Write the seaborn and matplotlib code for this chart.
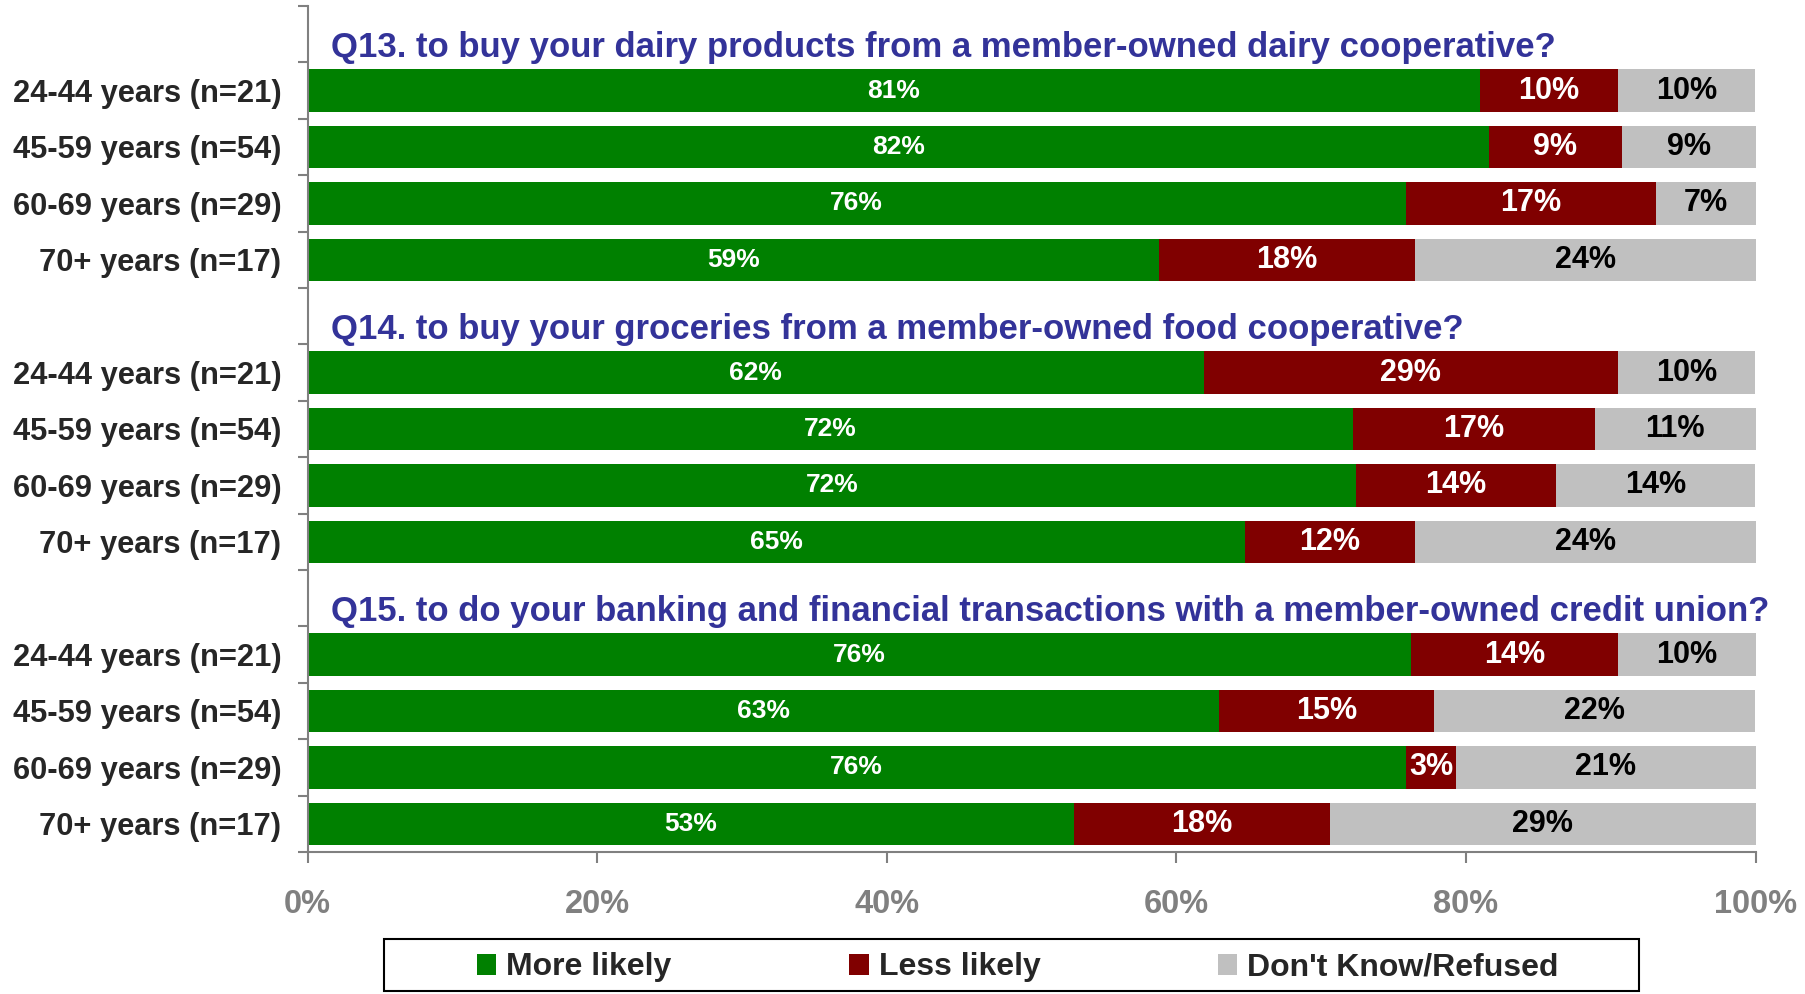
import matplotlib
matplotlib.use("Agg")
import matplotlib.pyplot as plt
import seaborn as sns
import pandas as pd
from matplotlib.patches import Patch, Rectangle

# survey data (percent of respondents per age group)
questions = [
    "Q13. to buy your dairy products from a member-owned dairy cooperative?",
    "Q14. to buy your groceries from a member-owned food cooperative?",
    "Q15. to do your banking and financial transactions with a member-owned credit union?",
]
age_groups = ["24-44 years (n=21)", "45-59 years (n=54)", "60-69 years (n=29)", "70+ years (n=17)"]

more_likely = [80.95, 81.60, 75.86, 58.82,
               61.90, 72.22, 72.41, 64.71,
               76.19, 62.96, 75.86, 52.94]
less_likely = [9.52, 9.15, 17.24, 17.65,
               28.57, 16.67, 13.79, 11.76,
               14.29, 14.81, 3.45, 17.65]
dont_know = [9.52, 9.25, 6.90, 23.53,
             9.52, 11.11, 13.79, 23.53,
             9.52, 22.22, 20.69, 29.41]

series = ["More likely", "Less likely", "Don't Know/Refused"]
colors = ["#008000", "#800000", "#C0C0C0"]
text_colors = ["white", "white", "black"]
label_sizes = [19, 22, 22]

sns.set_style("white")
plt.rcParams["font.family"] = ["Liberation Sans", "DejaVu Sans"]
plt.rcParams["font.weight"] = "bold"

# one header row per question, then its age groups
order, tick_labels, rows = [], [], []
i = 0
for qi, q in enumerate(questions):
    order.append(f"hdr{qi}")
    tick_labels.append("")
    for age in age_groups:
        key = f"{qi}|{age}"
        order.append(key)
        tick_labels.append(age)
        rows.append({"key": key, "more": more_likely[i], "less": less_likely[i], "dk": dont_know[i]})
        i += 1

df = pd.DataFrame(rows)
df["c1"] = df["more"]
df["c2"] = df["more"] + df["less"]
df["c3"] = df["more"] + df["less"] + df["dk"]

fig, ax = plt.subplots(figsize=(18.06, 9.94), dpi=100)
fig.subplots_adjust(left=0.1703, right=0.9721, bottom=0.1429, top=0.994)

# stacked bars drawn back to front as cumulative totals
for col, color in zip(["c3", "c2", "c1"], colors[::-1]):
    sns.barplot(data=df, y="key", x=col, order=order, orient="h", color=color,
                saturation=1, width=0.75, errorbar=None, linewidth=0, ax=ax)

# segment labels
pos = {k: order.index(k) for k in df["key"]}
for _, r in df.iterrows():
    y = pos[r["key"]]
    starts = [0, r["c1"], r["c2"]]
    for j, val in enumerate([r["more"], r["less"], r["dk"]]):
        ax.text(starts[j] + val / 2, y, f"{val:.0f}%", ha="center", va="center",
                color=text_colors[j], fontsize=label_sizes[j], fontweight="bold")

# question titles in the header rows
for qi, q in enumerate(questions):
    ax.text(1.6, order.index(f"hdr{qi}") + 0.4, q, color="#333399", fontsize=25,
            fontweight="bold", va="baseline", ha="left", clip_on=False)

ax.set_xlim(0, 100)
ax.set_ylim(len(order) - 0.5, -0.5)
ax.set_xlabel("")
ax.set_ylabel("")

ax.set_yticks(range(len(order)))
ax.set_yticklabels(tick_labels)
ax.set_yticks([k - 0.5 for k in range(len(order) + 1)], minor=True)
ax.tick_params(axis="y", which="major", length=0, pad=19, labelsize=22.2)
ax.tick_params(axis="y", which="minor", left=True, length=7.5, width=1.5, color="#808080")

ax.set_xticks(range(0, 101, 20))
ax.set_xticklabels([f"{v}%" for v in range(0, 101, 20)])
ax.tick_params(axis="x", bottom=True, length=8, width=1.5, color="#808080",
               labelcolor="#808080", labelsize=23.5, pad=19)

for s in ["top", "right"]:
    ax.spines[s].set_visible(False)
for s in ["left", "bottom"]:
    ax.spines[s].set_color("#808080")
    ax.spines[s].set_linewidth(1.5)

handles = [Patch(facecolor=c, edgecolor="none") for c in colors]
fig.legend(handles, series, loc="center", bbox_to_anchor=(0.5635, 0.0267), ncol=3,
           frameon=False, prop={"weight": "bold", "size": 23}, handlelength=0.62,
           handleheight=0.62, handletextpad=0.31, columnspacing=5.55, borderpad=0)
fig.add_artist(Rectangle((0.2126, 0.003), 0.695, 0.0523, transform=fig.transFigure,
                         fill=False, edgecolor="black", linewidth=1.5))

fig.savefig("out.png", dpi=100)
